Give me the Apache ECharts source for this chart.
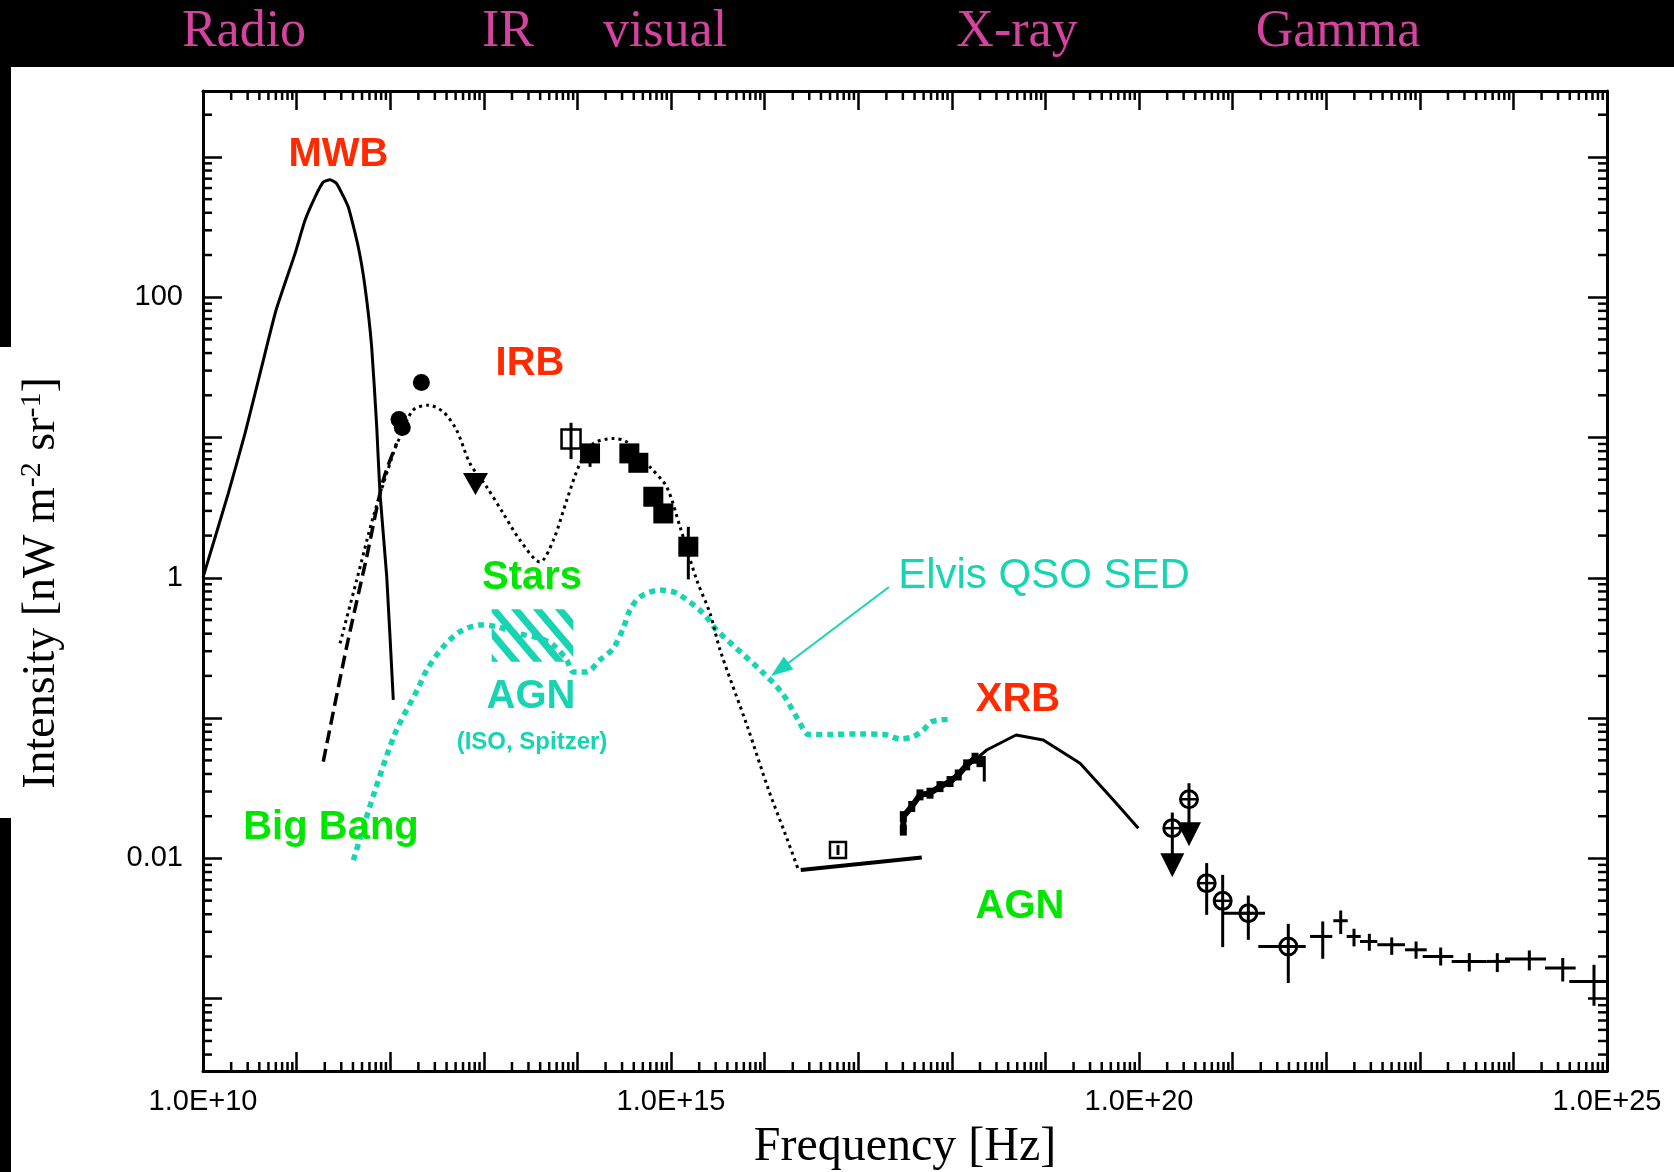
<!DOCTYPE html>
<html>
<head>
<meta charset="utf-8">
<title>Extragalactic background radiation</title>
<script src="https://cdn.jsdelivr.net/npm/echarts@6.0.0/dist/echarts.min.js"></script>
<style>
html,body{margin:0;padding:0;background:#ffffff;}
#chart{width:1674px;height:1172px;}
</style>
</head>
<body>
<div id="chart"></div>
<script>
// ===== Values =====
// every point is [log10(frequency / Hz), log10(intensity / nW m^-2 sr^-1)]

const mwbCurve = [[10.0,0.003],[10.270,0.602],[10.449,1.029],[10.627,1.504],[10.780,1.907],[10.983,2.311],
  [11.090,2.548],[11.197,2.714],[11.285,2.821],[11.357,2.838],[11.428,2.810],[11.552,2.643],[11.659,2.358],
  [11.731,2.073],[11.802,1.646],[11.856,1.076],[11.891,0.602],[11.963,0.008],[12.033,-0.870]];

const bigBangLine = [[11.285,-1.310],[11.535,-0.491],[11.749,0.150],[11.926,0.697],[12.069,0.958]];

const irbModel = [[11.464,-0.467],[11.642,-0.016],[11.819,0.435],[12.033,0.887],[12.105,1.005],[12.244,1.195],
  [12.407,1.231],[12.567,1.183],[12.710,1.052],[12.853,0.815],[13.031,0.648],[13.208,0.459],[13.387,0.268],
  [13.600,0.113],[13.743,0.268],[13.886,0.553],[14.028,0.815],[14.170,0.957],[14.384,0.993],[14.527,0.969],
  [14.776,0.790],[14.954,0.648],[15.096,0.364],[15.275,-0.016],[15.417,-0.253],[15.524,-0.514],
  [15.815,-1.058],[16.044,-1.514],[16.215,-1.816],[16.363,-2.085]];

const irbCircles = [[12.094,1.128],[12.129,1.071],[12.333,1.392]];
const irbUpperLimit = [[12.911,0.668]];
const irbOpenSquare = [[13.932,0.989]];
const irbSquares = [[14.135,0.887],[14.555,0.887],[14.651,0.820],[14.811,0.578],[14.918,0.459],[15.185,0.222]];

const elvisQso = [[11.607,-2.013],[11.834,-1.523],[12.062,-1.093],[12.291,-0.797],[12.390,-0.657],[12.567,-0.491],
  [12.746,-0.384],[12.959,-0.336],[13.138,-0.348],[13.351,-0.395],[13.600,-0.431],[13.743,-0.479],[13.886,-0.585],
  [13.956,-0.671],[14.099,-0.671],[14.241,-0.585],[14.384,-0.502],[14.490,-0.358],[14.562,-0.229],[14.669,-0.135],
  [14.883,-0.087],[15.061,-0.110],[15.345,-0.253],[15.488,-0.372],[15.958,-0.660],[16.186,-0.820],[16.358,-1.010],
  [16.472,-1.116],[16.699,-1.116],[17.019,-1.113],[17.274,-1.116],[17.447,-1.148],[17.589,-1.132],[17.696,-1.084],
  [17.785,-1.025],[17.981,-1.008]];

// AGN (ISO, Spitzer) hatched box: [log nu low, log nu high], [log I low, log I high]
const agnBoxNu = [13.084, 13.956];
const agnBoxI = [-0.598, -0.224];

const opticalAgnLine = [[16.386,-2.082],[17.679,-1.994]];
const opticalOpenSquare = [[16.784,-1.939]];

const xrbData = [[17.482,-1.798],[17.482,-1.702],[17.572,-1.630],[17.660,-1.547],[17.767,-1.535],[17.874,-1.488],
  [17.981,-1.452],[18.069,-1.405],[18.159,-1.333],[18.248,-1.286],[18.301,-1.310]];
const xrbModel = [[18.290,-1.275],[18.373,-1.227],[18.686,-1.120],[18.977,-1.156],[19.370,-1.321],[19.726,-1.583],[19.993,-1.784]];

// gamma upper limits: [log nu, log I, log I of arrow head]
const gammaLimits = [[20.356,-1.784,-2.048],[20.534,-1.578,-1.828]];

// error bars: [log nu, log I, nu low, nu high, I low, I high]  (null = no bar)
const gammaCircleErr = [
  [20.356,-1.784,null,null,-2.048,-1.673],
  [20.534,-1.578,null,null,-1.828,-1.464],
  [20.723,-2.176,null,null,-2.402,-2.033],
  [20.894,-2.302,null,null,-2.632,-2.117],
  [21.168,-2.390,20.901,21.346,-2.580,-2.264],
  [21.595,-2.628,21.275,21.781,-2.888,-2.466]];
const gammaCrossErr = [
  [21.963,-2.556,21.827,22.065,-2.715,-2.449],
  [22.155,-2.444,22.076,22.230,-2.539,-2.371],
  [22.297,-2.556,22.219,22.369,-2.627,-2.501],
  [22.461,-2.592,22.361,22.546,-2.658,-2.537],
  [22.700,-2.615,22.546,22.842,-2.687,-2.563],
  [22.960,-2.651,22.842,23.074,-2.715,-2.592],
  [23.223,-2.699,23.031,23.358,-2.763,-2.635],
  [23.529,-2.734,23.341,23.715,-2.806,-2.675],
  [23.828,-2.734,23.715,23.964,-2.810,-2.675],
  [24.170,-2.717,23.910,24.348,-2.798,-2.656],
  [24.527,-2.781,24.338,24.665,-2.877,-2.710],
  [24.861,-2.877,24.597,25.000,-3.050,-2.758]];
const otherErr = [
  [13.932,0.989,null,null,0.846,1.105],
  [14.135,0.887,null,null,0.791,0.950],
  [15.185,0.222,null,null,-0.011,0.364],
  [16.784,-1.939,null,null,-1.975,-1.905],
  [18.347,-1.310,null,null,-1.452,-1.270]];

// axis ticks / labels
const xLabelDecades = [10, 15, 20, 25];
const xTickLabels = ['1.0E+10', '1.0E+15', '1.0E+20', '1.0E+25'];
const yLabelDecades = [2, 0, -2];
const yTickLabels = ['100', '1', '0.01'];
const minorMultipliers = [2, 3, 4, 5, 6, 7, 8, 9];
const bandLabels = ['Radio', 'IR', 'visual', 'X-ray', 'Gamma'];

// ===== layout & style =====
const X_MIN = 1e10, X_MAX = 1e25;
const Y_MIN = Math.pow(10, -3.515), Y_MAX = Math.pow(10, 3.47);
const CYAN = '#17d4b2', GREEN = '#00e600', RED = '#ff2a00', PINK = '#d4449f';
const bandLabelX = [244, 508, 665, 1017, 1338];

const toXY = arr => arr.map(p => [Math.pow(10, p[0]), Math.pow(10, p[1])]);
const toErr = arr => arr.map(p => {
  const c = [Math.pow(10, p[0]), Math.pow(10, p[1])];
  const f = (v, d) => v == null ? d : Math.pow(10, v);
  return [c[0], c[1], f(p[2], c[0]), f(p[3], c[0]), f(p[4], c[1]), f(p[5], c[1])];
});

const xMinorTicks = [];
for (let e = 10; e < 25; e++) minorMultipliers.forEach(k => xMinorTicks.push(k * Math.pow(10, e)));
const yMinorTicks = [];
for (let e = -4; e <= 3; e++) minorMultipliers.forEach(k => {
  const v = k * Math.pow(10, e);
  if (v > Y_MIN && v < Y_MAX) yMinorTicks.push(v);
});

function labelFor(decades, texts) {
  return function (v) {
    const e = Math.log10(v), r = Math.round(e);
    if (Math.abs(e - r) > 1e-6) return '';
    const i = decades.indexOf(r);
    return i >= 0 ? texts[i] : '';
  };
}

function seg(x1, y1, x2, y2, w, color) {
  return { type: 'line', shape: { x1, y1, x2, y2 }, style: { stroke: color || '#000', lineWidth: w || 2.5 } };
}

function renderMinorTicks(params, api) {
  const bl = api.coord([X_MIN, Y_MIN]);
  const tr = api.coord([X_MAX, Y_MAX]);
  const L = 9;
  const ch = [];
  xMinorTicks.forEach(v => {
    const px = api.coord([v, 1])[0];
    ch.push(seg(px, bl[1], px, bl[1] - L));
    ch.push(seg(px, tr[1], px, tr[1] + L));
  });
  yMinorTicks.forEach(v => {
    const py = api.coord([1e15, v])[1];
    ch.push(seg(bl[0], py, bl[0] + L, py));
    ch.push(seg(tr[0], py, tr[0] - L, py));
  });
  return { type: 'group', children: ch };
}

function makeErrRender(withCircle) {
  return function (params, api) {
    const x = api.value(0), y = api.value(1);
    const c = api.coord([x, y]);
    const ch = [];
    const xl = api.value(2), xh = api.value(3), yl = api.value(4), yh = api.value(5);
    if (xl !== xh) {
      const a = api.coord([xl, y]), b = api.coord([xh, y]);
      ch.push(seg(a[0], a[1], b[0], b[1], 3));
    }
    if (yl !== yh) {
      const a = api.coord([x, yl]), b = api.coord([x, yh]);
      ch.push(seg(a[0], a[1], b[0], b[1], 3));
    }
    if (withCircle) {
      ch.push({ type: 'circle', shape: { cx: c[0], cy: c[1], r: 8.5 }, style: { fill: null, stroke: '#000', lineWidth: 3 } });
      ch.push(seg(c[0] - 8.5, c[1], c[0] + 8.5, c[1], 2.5));
    }
    return { type: 'group', children: ch };
  };
}

// hatch pattern for the AGN box
const hatch = document.createElement('canvas');
hatch.width = 22; hatch.height = 26;
(function () {
  const g = hatch.getContext('2d');
  g.strokeStyle = CYAN; g.lineWidth = 7;
  [-1, 0, 1].forEach(k => {
    g.beginPath(); g.moveTo(k * 22 - 22, -26); g.lineTo(k * 22 + 44, 52); g.stroke();
  });
})();

function renderBox(params, api) {
  const a = api.coord([Math.pow(10, agnBoxNu[0]), Math.pow(10, agnBoxI[1])]);
  const b = api.coord([Math.pow(10, agnBoxNu[1]), Math.pow(10, agnBoxI[0])]);
  return {
    type: 'rect',
    shape: { x: a[0], y: a[1], width: b[0] - a[0], height: b[1] - a[1] },
    style: { fill: { image: hatch, repeat: 'repeat' } }
  };
}

const axisLineStyle = { onZero: false, lineStyle: { color: '#000', width: 3 } };
const axisTickStyle = { inside: true, length: 19, lineStyle: { color: '#000', width: 2.5 } };
const tickFont = { fontFamily: 'Liberation Sans, Arial, sans-serif', fontSize: 29, color: '#000' };

const xAxisBase = { type: 'log', logBase: 10, min: X_MIN, max: X_MAX, interval: 1,
  axisLine: axisLineStyle, axisTick: axisTickStyle, splitLine: { show: false }, minorTick: { show: false } };
const yAxisBase = { type: 'log', logBase: 10, min: Y_MIN, max: Y_MAX,
  axisLine: axisLineStyle, axisTick: axisTickStyle, splitLine: { show: false }, minorTick: { show: false } };

function txt(text, x, y, size, color, weight, family) {
  return { type: 'text', x, y, z: 110, silent: true,
    style: { text, fontSize: size, fontWeight: weight || 'normal', fontFamily: family || 'Liberation Sans, Arial, sans-serif',
      fill: color, align: 'center', verticalAlign: 'middle' } };
}

const graphics = [
  { type: 'rect', shape: { x: 0, y: 0, width: 1674, height: 67 }, style: { fill: '#000' }, z: 50 },
  { type: 'rect', shape: { x: 0, y: 67, width: 11, height: 280 }, style: { fill: '#000' }, z: 50 },
  { type: 'rect', shape: { x: 0, y: 818, width: 11, height: 354 }, style: { fill: '#000' }, z: 50 },
  txt('MWB', 338.5, 155, 40, RED, 'bold'),
  txt('IRB', 530, 364, 40, RED, 'bold'),
  txt('Stars', 532, 578, 40, GREEN, 'bold'),
  txt('AGN', 531, 697, 40, CYAN, 'bold'),
  txt('(ISO, Spitzer)', 532, 742, 24, CYAN, 'bold'),
  txt('Big Bang', 331, 828, 40, GREEN, 'bold'),
  txt('XRB', 1018, 700, 40, RED, 'bold'),
  txt('AGN', 1020, 907, 40, GREEN, 'bold'),
  txt('Elvis QSO SED', 1044, 576, 42, CYAN, 'normal'),
  { type: 'line', z: 100, shape: { x1: 889, y1: 587, x2: 787, y2: 664 }, style: { stroke: CYAN, lineWidth: 2 } },
  { type: 'polygon', z: 100, shape: { points: [[771, 676], [793.4, 669.2], [783.8, 656.4]] }, style: { fill: CYAN } },
  txt('Frequency [Hz]', 905, 1147, 48, '#000', 'normal', 'Liberation Serif, Times New Roman, serif'),
  { type: 'text', x: 42, y: 583, rotation: Math.PI / 2, z: 110, silent: true,
    style: { text: 'Intensity [nW m{sup|-2} sr{sup|-1}]', fontSize: 46, lineHeight: 50,
      fontFamily: 'Liberation Serif, Times New Roman, serif', fill: '#000', align: 'center', verticalAlign: 'middle',
      rich: { sup: { fontSize: 30, verticalAlign: 'top', fontFamily: 'Liberation Serif, Times New Roman, serif', fill: '#000' } } } }
];
bandLabels.forEach((t, i) => graphics.push(txt(t, bandLabelX[i], 32, 52, PINK, 'normal', 'Liberation Serif, Times New Roman, serif')));

const lineDefaults = { type: 'line', showSymbol: false, silent: true, animation: false, z: 3 };
const solidItem = { color: '#000', opacity: 1 };

const option = {
  backgroundColor: '#ffffff',
  animation: false,
  grid: { left: 203, right: 67, top: 91, bottom: 101, containLabel: false },
  xAxis: [
    Object.assign({}, xAxisBase, { position: 'bottom',
      axisLabel: Object.assign({ margin: 16, showMinLabel: true, showMaxLabel: true, formatter: labelFor(xLabelDecades, xTickLabels) }, tickFont) }),
    Object.assign({}, xAxisBase, { position: 'top', axisLabel: { show: false } })
  ],
  yAxis: [
    Object.assign({}, yAxisBase, { position: 'left',
      axisLabel: Object.assign({ margin: 20, formatter: labelFor(yLabelDecades, yTickLabels) }, tickFont) }),
    Object.assign({}, yAxisBase, { position: 'right', axisLabel: { show: false } })
  ],
  graphic: { elements: graphics },
  series: [
    { type: 'custom', name: 'minor ticks', renderItem: renderMinorTicks, data: [[1e15, 1]], clip: false, silent: true, z: 10 },
    { type: 'custom', name: 'AGN box', renderItem: renderBox, data: [[1e13, 0.5]], silent: true, z: 1 },
    Object.assign({}, lineDefaults, { name: 'Elvis QSO SED', data: toXY(elvisQso), smooth: 0.3,
      lineStyle: { color: CYAN, width: 5.5, type: [6, 5], cap: 'butt' } }),
    Object.assign({}, lineDefaults, { name: 'MWB', data: toXY(mwbCurve), smooth: 0.15,
      lineStyle: { color: '#000', width: 3 } }),
    Object.assign({}, lineDefaults, { name: 'Big Bang', data: toXY(bigBangLine), smooth: 0.3,
      lineStyle: { color: '#000', width: 3.5, type: [13, 6], cap: 'butt' } }),
    Object.assign({}, lineDefaults, { name: 'IRB model', data: toXY(irbModel), smooth: 0.3,
      lineStyle: { color: '#000', width: 3, type: [3, 4], cap: 'butt' } }),
    Object.assign({}, lineDefaults, { name: 'optical AGN', data: toXY(opticalAgnLine),
      lineStyle: { color: '#000', width: 4 } }),
    Object.assign({}, lineDefaults, { name: 'XRB data', data: toXY(xrbData), showSymbol: true, symbol: 'rect', symbolSize: [7, 11],
      itemStyle: solidItem, lineStyle: { color: '#000', width: 6 } }),
    Object.assign({}, lineDefaults, { name: 'XRB model', data: toXY(xrbModel),
      lineStyle: { color: '#000', width: 3 } }),
    { type: 'scatter', name: 'IRB circles', data: toXY(irbCircles), symbol: 'circle', symbolSize: 17,
      itemStyle: solidItem, silent: true, z: 5 },
    { type: 'scatter', name: 'IRB limit', data: toXY(irbUpperLimit), symbol: 'triangle', symbolRotate: 180, symbolSize: [25, 22],
      itemStyle: solidItem, silent: true, z: 5 },
    { type: 'scatter', name: 'IRB open', data: toXY(irbOpenSquare), symbol: 'rect', symbolSize: 19,
      itemStyle: { color: 'rgba(0,0,0,0)', borderColor: '#000', borderWidth: 2.5, opacity: 1 }, silent: true, z: 5 },
    { type: 'scatter', name: 'IRB squares', data: toXY(irbSquares), symbol: 'rect', symbolSize: 20,
      itemStyle: solidItem, silent: true, z: 5 },
    { type: 'scatter', name: 'optical open', data: toXY(opticalOpenSquare), symbol: 'rect', symbolSize: 16,
      itemStyle: { color: 'rgba(0,0,0,0)', borderColor: '#000', borderWidth: 2.5, opacity: 1 }, silent: true, z: 5 },
    { type: 'scatter', name: 'gamma limits', data: gammaLimits.map(p => [Math.pow(10, p[0]), Math.pow(10, p[2])]),
      symbol: 'triangle', symbolRotate: 180, symbolSize: [24, 24], itemStyle: solidItem, silent: true, z: 5 },
    { type: 'custom', name: 'gamma circles', renderItem: makeErrRender(true), data: toErr(gammaCircleErr), silent: true, z: 6 },
    { type: 'custom', name: 'gamma crosses', renderItem: makeErrRender(false), data: toErr(gammaCrossErr), silent: true, z: 6 },
    { type: 'custom', name: 'other error bars', renderItem: makeErrRender(false), data: toErr(otherErr), silent: true, z: 6 }
  ]
};

const chart = echarts.init(document.getElementById('chart'), null, { renderer: 'canvas' });
chart.setOption(option);
</script>
</body>
</html>
